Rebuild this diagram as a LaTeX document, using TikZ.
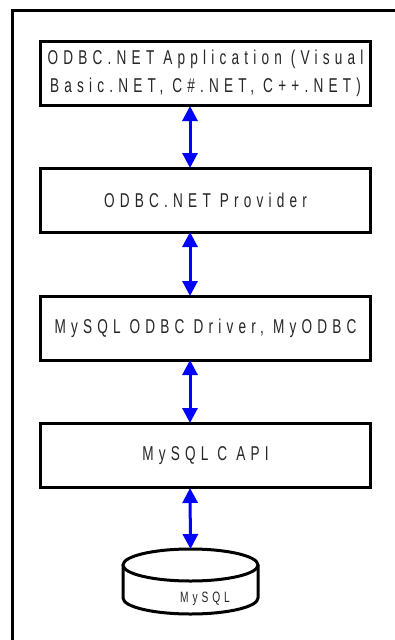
\documentclass[tikz,border=0pt]{standalone}
\usepackage{fontspec}
\setmainfont{Liberation Sans}[FakeStretch=0.68,LetterSpace=26]
\usetikzlibrary{arrows.meta}
\begin{document}
\begin{tikzpicture}[x=1pt,y=-1pt,
  layer/.style={draw=black,line width=3pt,fill=white,minimum width=330pt,minimum height=64pt,align=center,inner sep=0pt,font=\fontsize{20}{28}\selectfont,text=black!85},
  link/.style={draw=blue,line width=3pt,{Triangle[length=15pt,width=15pt]}-{Triangle[length=15pt,width=15pt]}},
  frame/.style={draw=black,line width=3pt},
  dbline/.style={draw=black,line width=3pt}]
\useasboundingbox (0,0) rectangle (395,640);
\draw[frame] (12,10) rectangle (430,680);
\node[layer] (app) at (205.5,73.5) {ODBC.NET Application (Visual\\Basic.NET, C\#.NET, C++.NET)};
\node[layer] (prov) at (205.5,200) {ODBC.NET Provider};
\node[layer] (drv) at (205.5,328) {MySQL ODBC Driver, MyODBC};
\node[layer] (capi) at (205.5,455.5) {MySQL C API};
% database cylinder
\draw[dbline,fill=white] (123,565) -- (123,598) arc[start angle=180,end angle=360,x radius=67.5pt,y radius=16pt] -- (258,565);
\draw[dbline,fill=white] (190.5,565) ellipse[x radius=67.5pt,y radius=16pt];
\coordinate (dbtop) at (190.5,549);
\node[font=\fontsize{15}{17}\selectfont,text=black!85] (dbl) at (205,599) {MySQL};
\draw[link] (190,106) -- (190,168);
\draw[link] (190,232) -- (190,296);
\draw[link] (190,360) -- (190,423);
\draw[link] (190,488) -- (dbtop);
\end{tikzpicture}
\end{document}
